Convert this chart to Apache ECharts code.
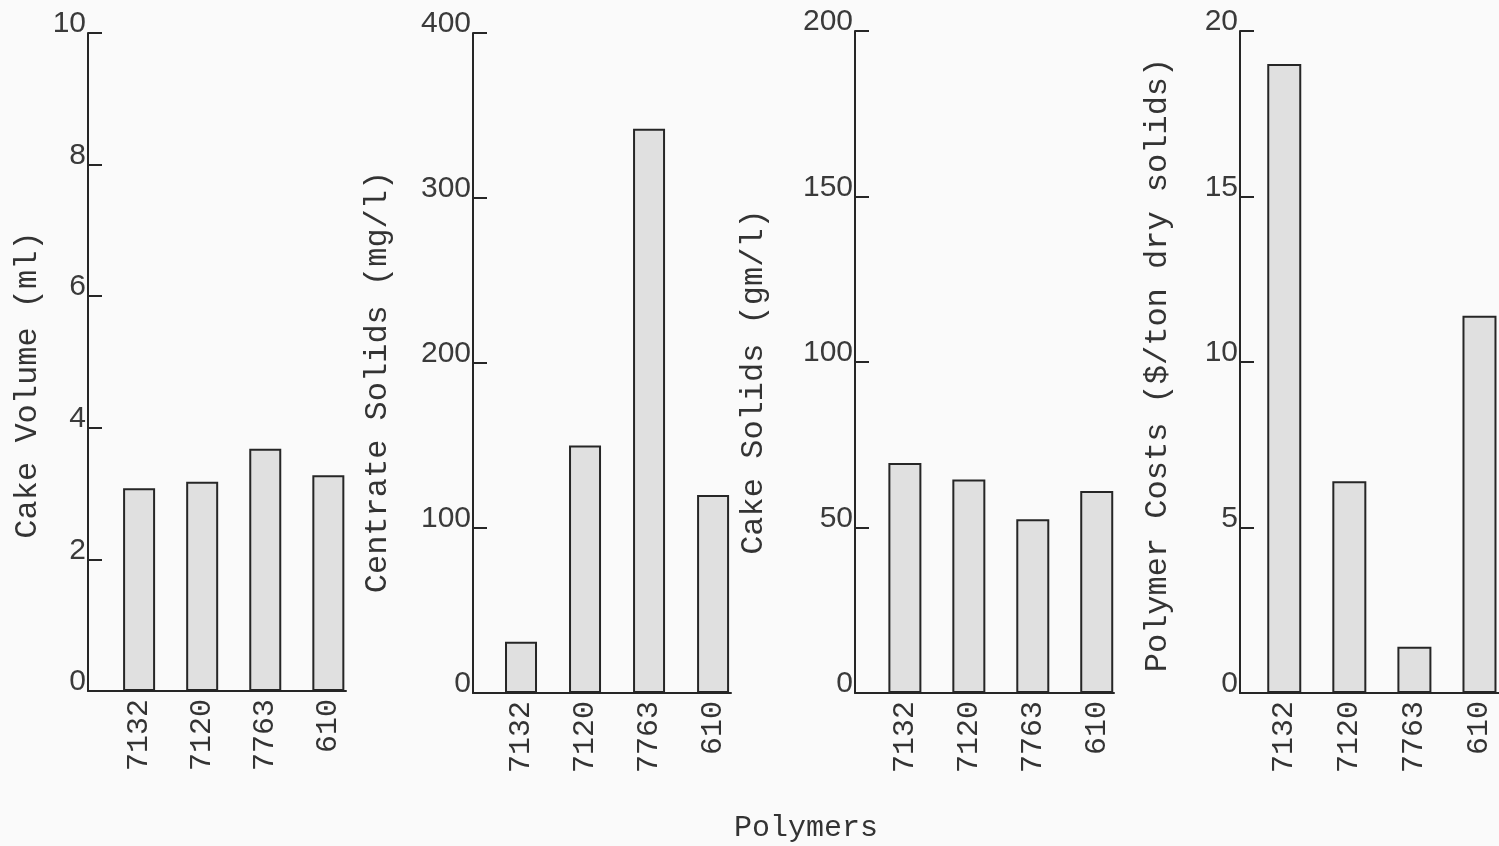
<!DOCTYPE html>
<html>
<head>
<meta charset="utf-8">
<script src="https://cdn.jsdelivr.net/npm/echarts@6/dist/echarts.min.js"></script>
<style>
html,body{margin:0;padding:0;background:#fafafa;}
#c{width:1499px;height:846px;}
</style>
</head>
<body>
<div id="c"></div>
<script>
// ---- data ----
const categories = ['7132', '7120', '7763', '610'];
const positions = [1, 2, 3, 4];
const cakeVolume = [3.08, 3.18, 3.68, 3.28];       // ml
const centrateSolids = [31, 150, 342, 120];         // mg/l
const cakeSolids = [69.5, 64.5, 52.5, 61];          // gm/l
const polymerCosts = [19, 6.4, 1.4, 11.4];          // $/ton dry solids
const axisTitles = ['Cake Volume (ml)', 'Centrate Solids (mg/l)', 'Cake Solids (gm/l)', 'Polymer Costs ($/ton dry solids)'];
const yMax = [10, 400, 200, 20];
const yStep = [2, 100, 50, 5];
const xLabel = 'Polymers';

// ---- layout ----
const panels = [
  {left: 88,  top: 33, width: 258, height: 658, xmin: 0.19, xmax: 4.28, gap: 44, shift: 23, bw: 32},
  {left: 473, top: 33, width: 258, height: 660, xmin: 0.25, xmax: 4.28, gap: 79, shift: 19, bw: 32},
  {left: 855, top: 31, width: 259, height: 662, xmin: 0.22, xmax: 4.27, gap: 85, shift: 20, bw: 33},
  {left: 1240, top: 31, width: 263, height: 662, xmin: 0.32, xmax: 4.3, gap: 66, shift: 3, bw: 34}
];
const seriesData = [cakeVolume, centrateSolids, cakeSolids, polymerCosts];

const ink = '#262626';
const mono = 'Liberation Mono';
const sans = 'Liberation Sans';

const option = {
  backgroundColor: '#fafafa',
  animation: false,
  grid: panels.map(p => ({left: p.left, top: p.top, width: p.width, height: p.height, containLabel: false})),
  xAxis: panels.map((p, i) => ({
    type: 'value', gridIndex: i, min: p.xmin, max: p.xmax,
    axisLine: {show: true, lineStyle: {color: ink, width: 2}},
    axisTick: {show: false},
    splitLine: {show: false},
    axisLabel: {
      customValues: positions,
      formatter: v => categories[Math.round(v) - 1] || '',
      rotate: 90, margin: 8,
      fontFamily: mono, fontSize: 30, color: '#333'
    }
  })),
  yAxis: panels.map((p, i) => ({
    type: 'value', gridIndex: i, min: 0, max: yMax[i], interval: yStep[i],
    name: axisTitles[i], nameLocation: 'middle', nameRotate: 90, nameGap: p.gap,
    nameTextStyle: {fontFamily: mono, fontSize: 32, color: '#333', padding: [0, p.shift * 2, 0, 0]},
    axisLine: {show: true, lineStyle: {color: ink, width: 2}},
    axisTick: {show: true, inside: true, length: 14, lineStyle: {color: ink, width: 2}},
    splitLine: {show: false},
    axisLabel: {fontFamily: sans, fontSize: 30, color: '#3a3a3a', margin: 2, verticalAlign: 'bottom', lineHeight: 18}
  })),
  series: panels.map((p, i) => ({
    type: 'bar', xAxisIndex: i, yAxisIndex: i,
    barWidth: p.bw,
    data: positions.map((x, k) => [x, seriesData[i][k]]),
    itemStyle: {color: '#e0e0e0', borderColor: ink, borderWidth: 2},
    silent: true
  })),
  graphic: [{
    type: 'text', x: 806, y: 828,
    style: {text: xLabel, fontFamily: mono, fontSize: 30, fill: '#333', textAlign: 'center', textVerticalAlign: 'middle'}
  }]
};

const chart = echarts.init(document.getElementById('c'), null, {renderer: 'canvas'});
chart.setOption(option);
</script>
</body>
</html>
